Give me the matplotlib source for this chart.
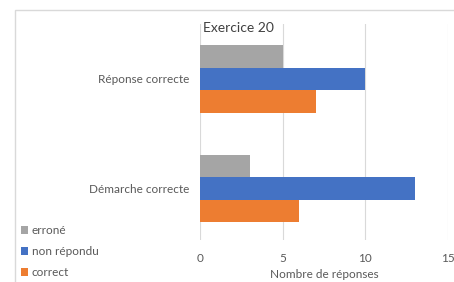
import matplotlib
matplotlib.use("Agg")
import matplotlib.pyplot as plt
from matplotlib.patches import Rectangle, Patch

categories = ["Démarche correcte", "Réponse correcte"]
series_names = ["erroné", "non répondu", "correct"]
erroné = [3, 5]
non_repondu = [13, 10]
correct = [6, 7]
series_values = [erroné, non_repondu, correct]
colors = ["#a5a5a5", "#4472c4", "#ed7d31"]
xticks = [0, 5, 10, 15]

plt.rcParams['font.family'] = ['Lato', 'DejaVu Sans']
txt = "#595959"

fig = plt.figure(figsize=(4.54, 2.82), dpi=100)
fig.patch.set_facecolor("white")
fig.patches.append(Rectangle((15/454, -0.1), 1.0, 1 - 10/282 + 0.1, transform=fig.transFigure,
                             fill=False, edgecolor="#d9d9d9", linewidth=1.0))

ax = fig.add_axes([200/454, 1 - 240/282, 248/454, (240 - 24)/282])
h = 0.205
offsets = [h, 0, -h]
ypos = list(range(len(categories)))
for vals, off, col, name in zip(series_values, offsets, colors, series_names):
    ax.barh([y + off for y in ypos], vals, height=h, color=col, label=name, zorder=3)

ax.set_xlim(0, 15)
ax.set_ylim(-0.47, 1.5)
ax.set_xticks(xticks)
ax.set_xticklabels([str(t) for t in xticks])
ax.set_yticks(ypos)
ax.set_yticklabels(categories)
ax.tick_params(axis="both", length=0, labelsize=8.5, colors=txt)
ax.tick_params(axis="x", pad=9)
ax.tick_params(axis="y", pad=8)
for s in ax.spines.values():
    s.set_visible(False)
ax.grid(axis="x", color="#d9d9d9", linewidth=0.8, zorder=0)
fig.text(324/454, 1 - 274/282, "Nombre de réponses", ha="center", va="center",
         fontsize=8.5, color=txt)

fig.text(238/454, 1 - 28/282, "Exercice 20", ha="center", va="center", fontsize=10, color="#404040")

handles = [Patch(facecolor=c) for c in colors]
fig.legend(handles, series_names, loc="upper left", bbox_to_anchor=(21/454, 1 - 225/282),
           frameon=False, fontsize=8.5, labelcolor=txt, handlelength=0.6, handleheight=0.6,
           handletextpad=0.3, labelspacing=0.85, borderaxespad=0, borderpad=0)

fig.savefig("out.png", dpi=100)
